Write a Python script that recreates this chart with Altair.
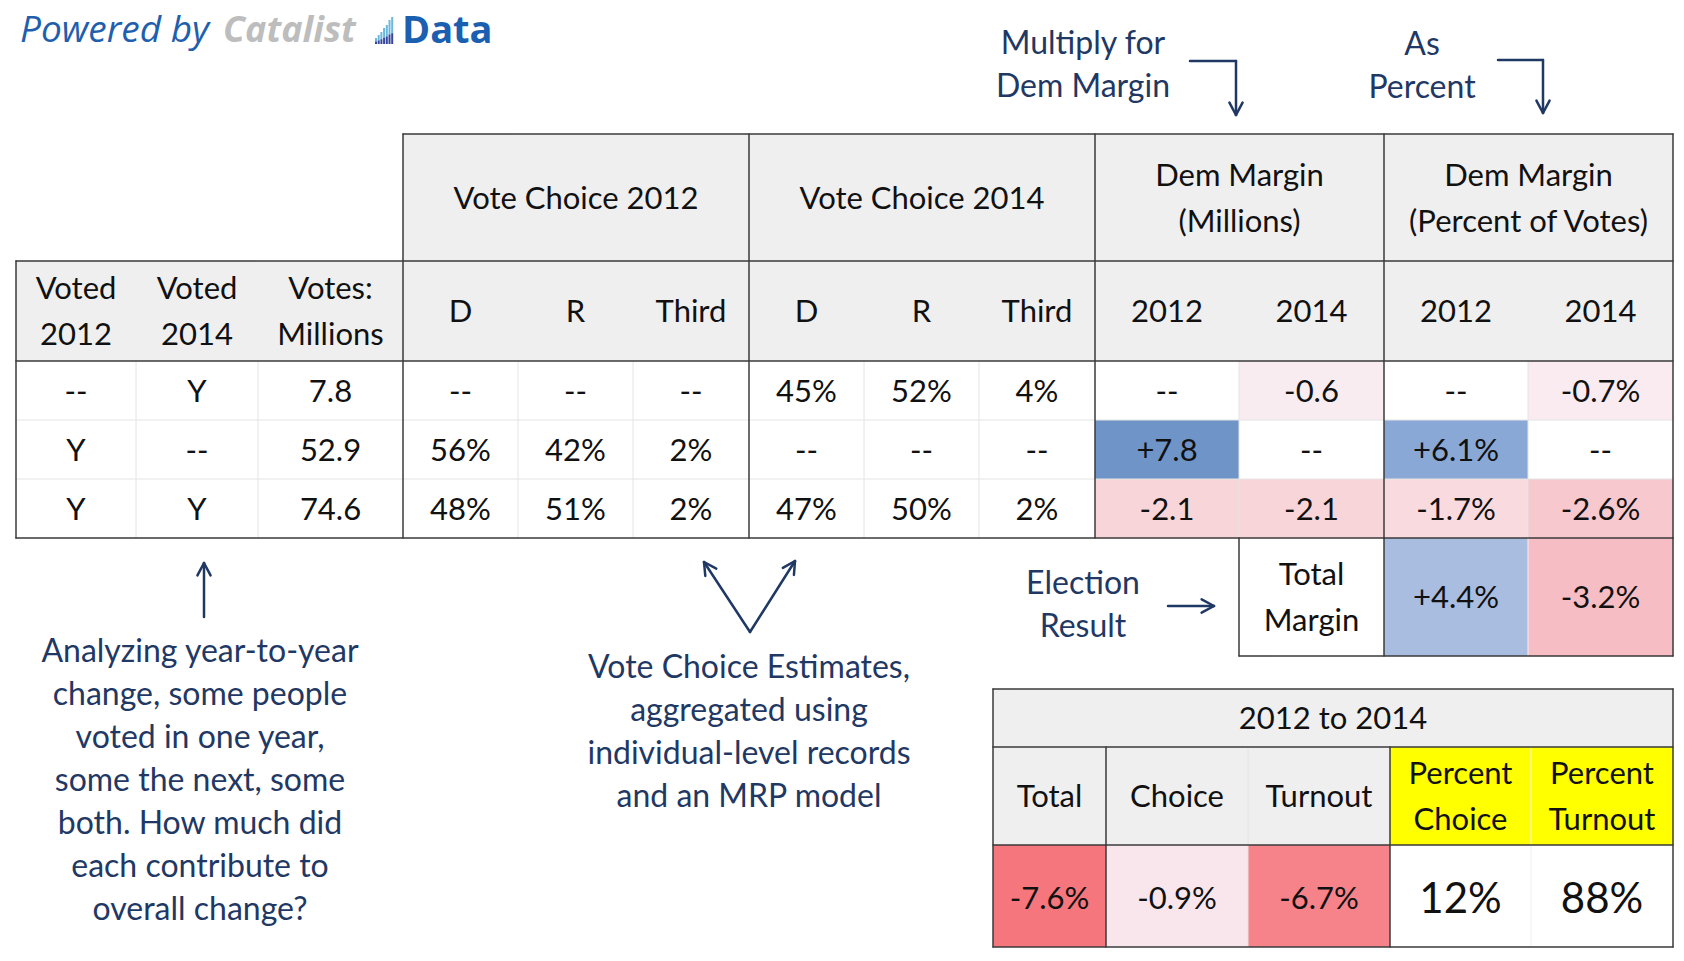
import altair as alt
import pandas as pd
import math

# ------------------------------------------------------------------ data
voted_2012 = ["--", "Y", "Y"]
voted_2014 = ["Y", "--", "Y"]
votes_millions = [7.8, 52.9, 74.6]
choice_2012_d = [None, 56, 48]
choice_2012_r = [None, 42, 51]
choice_2012_third = [None, 2, 2]
choice_2014_d = [45, None, 47]
choice_2014_r = [52, None, 50]
choice_2014_third = [4, None, 2]
dem_margin_mil_2012 = [None, 7.8, -2.1]
dem_margin_mil_2014 = [-0.6, None, -2.1]
dem_margin_pct_2012 = [None, 6.1, -1.7]
dem_margin_pct_2014 = [-0.7, None, -2.6]
total_margin_pct = [4.4, -3.2]  # 2012, 2014
change_labels = ["Total", "Choice", "Turnout", "Percent\nChoice", "Percent\nTurnout"]
change_values = [-7.6, -0.9, -6.7, 12, 88]

group_headers = ["Vote Choice 2012", "Vote Choice 2014",
                 "Dem Margin\n(Millions)", "Dem Margin\n(Percent of Votes)"]
column_headers = ["Voted\n2012", "Voted\n2014", "Votes:\nMillions",
                  "D", "R", "Third", "D", "R", "Third",
                  "2012", "2014", "2012", "2014"]
notes = {
    "multiply": "Multiply for\nDem Margin",
    "percent": "As\nPercent",
    "turnout": "Analyzing year-to-year\nchange, some people\nvoted in one year,\nsome the next, some\nboth. How much did\neach contribute to\noverall change?",
    "choice": "Vote Choice Estimates,\naggregated using\nindividual-level records\nand an MRP model",
    "election": "Election\nResult",
    "total": "Total\nMargin",
    "change": "2012 to 2014",
}

# ------------------------------------------------------------------ styles
WHITE = "#ffffff"
GRAY = "#efefef"
YELLOW = "#ffff00"
NAVY = "#1f3864"
INK = "#111111"
DARK = "#3a3a3a"
FAINT = "#e4e4e4"
mil_2012_fill = [WHITE, "#6f94c8", "#f8d5d9"]
mil_2014_fill = ["#f9ecf0", WHITE, "#f8d5d9"]
pct_2012_fill = [WHITE, "#8aa8d6", "#f9dbdf"]
pct_2014_fill = ["#f9ebef", WHITE, "#f7c9cf"]
total_fill = ["#a9bde0", "#f6bec4"]
change_fill = ["#f5767c", "#f9e6ec", "#f6838a", WHITE, WHITE]
change_head_fill = [GRAY, GRAY, GRAY, YELLOW, YELLOW]
TABLE_LH = 46
NOTE_LH = 43

# ------------------------------------------------------------------ layout grid (page pixels)
XE = [16, 136, 258, 403, 518, 633, 749, 864, 979, 1095, 1239, 1384, 1528, 1673]
YE = [134, 261, 361, 420, 479, 538, 656]
BX = [993, 1106, 1248, 1390, 1531, 1673]
BY = [689, 747, 845, 947]
W, H = 1668, 940


def dash(v, f):
    return "--" if v is None else f(v)


pct = lambda v: f"{v}%"
mil = lambda v: f"{v:+.1f}"
mpct = lambda v: f"{v:+.1f}%"

columns = [
    [dash(v, str) for v in voted_2012],
    [dash(v, str) for v in voted_2014],
    [f"{v:.1f}" for v in votes_millions],
    [dash(v, pct) for v in choice_2012_d],
    [dash(v, pct) for v in choice_2012_r],
    [dash(v, pct) for v in choice_2012_third],
    [dash(v, pct) for v in choice_2014_d],
    [dash(v, pct) for v in choice_2014_r],
    [dash(v, pct) for v in choice_2014_third],
    [dash(v, mil) for v in dem_margin_mil_2012],
    [dash(v, mil) for v in dem_margin_mil_2014],
    [dash(v, mpct) for v in dem_margin_pct_2012],
    [dash(v, mpct) for v in dem_margin_pct_2014],
]
fills = [[WHITE] * 3] * 9 + [mil_2012_fill, mil_2014_fill, pct_2012_fill, pct_2014_fill]

rects, texts, rules, notes_t = [], [], [], []


def rect(x, x2, y, y2, c):
    rects.append(dict(x=x, x2=x2, y=y, y2=y2, c=c))


def line(x, y, x2, y2, c=DARK, w=1.5):
    rules.append(dict(x=x, y=y, x2=x2, y2=y2, c=c, w=w))


def txt(x, y, t, s=31):
    n = t.count("\n")
    texts.append(dict(x=x, y=y + 2 - n * TABLE_LH / 2, t=t, s=s))


# header band (group headers)
groups = [(3, 6), (6, 9), (9, 11), (11, 13)]
rect(XE[3], XE[13], YE[0], YE[1], GRAY)
for (a, b), label in zip(groups, group_headers):
    txt((XE[a] + XE[b]) / 2, (YE[0] + YE[1]) / 2, label)
# column headers
rect(XE[0], XE[13], YE[1], YE[2], GRAY)
for i, label in enumerate(column_headers):
    txt((XE[i] + XE[i + 1]) / 2, (YE[1] + YE[2]) / 2, label)
# body
for i, col in enumerate(columns):
    for r, val in enumerate(col):
        rect(XE[i], XE[i + 1], YE[2 + r], YE[3 + r], fills[i][r])
        txt((XE[i] + XE[i + 1]) / 2, (YE[2 + r] + YE[3 + r]) / 2, val)
# election result row
rect(XE[10], XE[11], YE[5], YE[6], WHITE)
txt((XE[10] + XE[11]) / 2, (YE[5] + YE[6]) / 2, notes["total"])
for k, v in enumerate(total_margin_pct):
    rect(XE[11 + k], XE[12 + k], YE[5], YE[6], total_fill[k])
    txt((XE[11 + k] + XE[12 + k]) / 2, (YE[5] + YE[6]) / 2, mpct(v))
# change table
rect(BX[0], BX[5], BY[0], BY[1], GRAY)
txt((BX[0] + BX[5]) / 2, (BY[0] + BY[1]) / 2, notes["change"])
for k, (lab, v) in enumerate(zip(change_labels, change_values)):
    rect(BX[k], BX[k + 1], BY[1], BY[2], change_head_fill[k])
    txt((BX[k] + BX[k + 1]) / 2, (BY[1] + BY[2]) / 2, lab)
    rect(BX[k], BX[k + 1], BY[2], BY[3], change_fill[k])
    label = f"{v:.1f}%" if k < 3 else f"{v}%"
    txt((BX[k] + BX[k + 1]) / 2, (BY[2] + BY[3]) / 2 + 2, label, 31 if k < 3 else 42)

# faint inner grid lines
for i in [1, 2, 4, 5, 7, 8, 10, 12]:
    line(XE[i], YE[2], XE[i], YE[5], FAINT, 1)
for j in [3, 4]:
    line(XE[0], YE[j], XE[13], YE[j], FAINT, 1)
line(XE[12], YE[5], XE[12], YE[6], "#f0f0f0", 1)
line(BX[2], BY[1], BX[2], BY[3], FAINT, 1)
line(BX[4], BY[1], BX[4], BY[3], "#f0f0f0", 1)
# dark borders
line(XE[3], YE[0], XE[13], YE[0])
for i in [3, 6, 9, 11, 13]:
    line(XE[i], YE[0], XE[i], YE[5])
line(XE[0], YE[1], XE[0], YE[5])
for j in [1, 2, 5]:
    line(XE[0], YE[j], XE[13], YE[j])
for i in [10, 11, 13]:
    line(XE[i], YE[5], XE[i], YE[6])
line(XE[10], YE[6], XE[13], YE[6])
for j in BY:
    line(BX[0], j, BX[5], j)
line(BX[0], BY[0], BX[0], BY[3])
line(BX[5], BY[0], BX[5], BY[3])
for i in [1, 3]:
    line(BX[i], BY[1], BX[i], BY[3])


# annotation arrows
def arrow(pts, head=14, ang=28):
    for (x1, y1), (x2, y2) in zip(pts[:-1], pts[1:]):
        line(x1, y1, x2, y2, NAVY, 2.5)
    (xa, ya), (xb, yb) = pts[-2], pts[-1]
    d = math.hypot(xa - xb, ya - yb)
    ux, uy = (xa - xb) / d, (ya - yb) / d
    for s in (1, -1):
        a = math.radians(ang) * s
        wx = ux * math.cos(a) - uy * math.sin(a)
        wy = ux * math.sin(a) + uy * math.cos(a)
        line(xb, yb, xb + wx * head, yb + wy * head, NAVY, 2.5)


arrow([(1190, 61), (1236, 61), (1236, 115)])
arrow([(1498, 60), (1543, 60), (1543, 113)])
arrow([(204, 617), (204, 563)])
arrow([(750, 632), (704, 562)])
arrow([(750, 632), (795, 561)])
arrow([(1168, 606), (1214, 606)])


def note(x, y_first, t):
    notes_t.append(dict(x=x, y=y_first + 2, t=t))


note(1083, 42, notes["multiply"])
note(1422, 43, notes["percent"])
note(200, 650, notes["turnout"])
note(749, 666, notes["choice"])
note(1083, 582, notes["election"])

# logo bars
bar_tops = [38, 35, 32, 28, 25, 20, 17]
logo_bars = pd.DataFrame(dict(x=[376 + 2.7 * k for k in range(7)], top=bar_tops,
                              mid=[44 - (44 - t) * 0.4 for t in bar_tops], bottom=[44] * 7))

# ------------------------------------------------------------------ chart
YSC = alt.Scale(domain=[8, 8 + H], reverse=True)
X = alt.X("x:Q", scale=alt.Scale(domain=[8, 8 + W]), axis=None)
Y = alt.Y("y:Q", scale=YSC, axis=None)

rect_layer = alt.Chart(pd.DataFrame(rects)).mark_rect(strokeWidth=0).encode(
    x=X, x2="x2:Q", y=Y, y2="y2:Q", fill=alt.Fill("c:N", scale=None))

rule_layer = alt.Chart(pd.DataFrame(rules)).mark_rule(strokeCap="round").encode(
    x=X, y=Y, x2="x2:Q", y2="y2:Q",
    color=alt.Color("c:N", scale=None), strokeWidth=alt.StrokeWidth("w:Q", scale=None))

text_layer = alt.Chart(pd.DataFrame(texts)).mark_text(
    font="Lato", align="center", baseline="middle", lineBreak="\n",
    lineHeight=TABLE_LH, color=INK
).encode(x=X, y=Y, text="t:N", size=alt.Size("s:Q", scale=None))

note_layer = alt.Chart(pd.DataFrame(notes_t)).mark_text(
    font="Lato", fontSize=32, align="center", baseline="middle", lineBreak="\n",
    lineHeight=NOTE_LH, color=NAVY
).encode(x=X, y=Y, text="t:N")

bars_light = alt.Chart(logo_bars).mark_rule(strokeWidth=2, color="#6cb8dc").encode(
    x=X, y=alt.Y("top:Q", scale=YSC, axis=None), y2="mid:Q")
bars_dark = alt.Chart(logo_bars).mark_rule(strokeWidth=2, color="#34479a").encode(
    x=X, y=alt.Y("mid:Q", scale=YSC, axis=None), y2="bottom:Q")

logo_df = pd.DataFrame(dict(x=[20, 223, 402], y=[42, 42, 43],
                            t=["Powered by", "Catalist", "Data"]))
powered = alt.Chart(logo_df.iloc[[0]]).mark_text(
    font="Open Sans", fontStyle="italic", fontSize=37, align="left",
    baseline="alphabetic", color="#1f5fad").encode(x=X, y=Y, text="t:N")
catalist = alt.Chart(logo_df.iloc[[1]]).mark_text(
    font="Open Sans", fontStyle="italic", fontWeight="bold", fontSize=36, align="left",
    baseline="alphabetic", color="#bdbdbd").encode(x=X, y=Y, text="t:N")
data_word = alt.Chart(logo_df.iloc[[2]]).mark_text(
    font="Open Sans", fontWeight="bold", fontSize=38, align="left",
    baseline="alphabetic", color="#1a5fb0").encode(x=X, y=Y, text="t:N")

chart = alt.layer(
    rect_layer, rule_layer, text_layer, note_layer,
    bars_light, bars_dark, powered, catalist, data_word
).properties(
    width=W, height=H, padding=0, autosize=alt.AutoSizeParams(type="none"),
    view=alt.ViewBackground(stroke=None, strokeWidth=0, fill=None),
).configure_view(strokeWidth=0, stroke=None).configure(background="#ffffff")

chart.save("out.html", embed_options={"renderer": "svg", "actions": False})
